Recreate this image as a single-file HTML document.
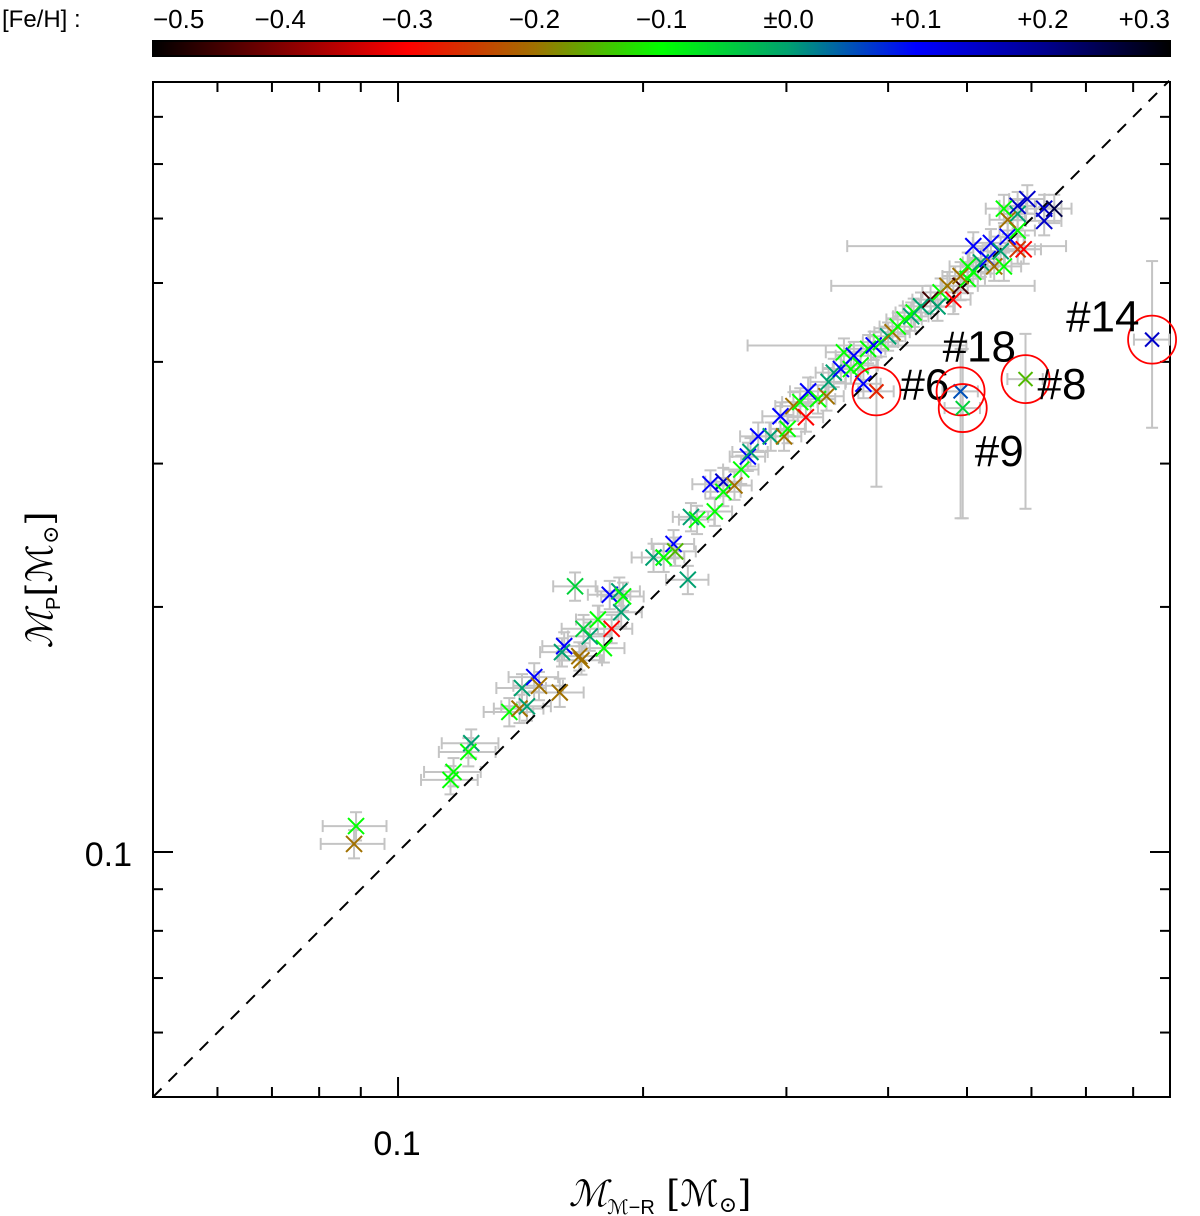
<!DOCTYPE html>
<html><head><meta charset="utf-8"><style>
html,body{margin:0;padding:0;background:#fff;}
svg{display:block;font-family:"Liberation Sans","DejaVu Sans",sans-serif;}
.nar{font-family:"Liberation Sans Narrow","Liberation Sans",sans-serif;}
</style></head><body>
<svg id="chart" width="1200" height="1216" viewBox="0 0 1200 1216" xmlns="http://www.w3.org/2000/svg">
<defs>
<linearGradient id="cbar" x1="0" x2="1" y1="0" y2="0">
<stop offset="0" stop-color="#000"/>
<stop offset="0.125" stop-color="#800000"/>
<stop offset="0.25" stop-color="#ff0000"/>
<stop offset="0.375" stop-color="#a07000"/>
<stop offset="0.5" stop-color="#00ff00"/>
<stop offset="0.625" stop-color="#00a070"/>
<stop offset="0.75" stop-color="#0000ff"/>
<stop offset="0.875" stop-color="#000090"/>
<stop offset="1" stop-color="#000"/>
</linearGradient>
</defs>
<text class="nar" x="2" y="27" font-size="24" fill="#000">[Fe/H] :</text>
<rect x="153" y="41" width="1017" height="15" fill="url(#cbar)" stroke="#000" stroke-width="2"/>
<g id="cbticks" class="nar"></g>
<rect x="153" y="82" width="1017" height="1015" fill="none" stroke="#000" stroke-width="2"/>
<g id="axes"></g>
<g id="errs"></g>
<line id="oneone" stroke="#000" stroke-width="2" stroke-dasharray="12,10"/>
<g id="marks"></g>
<g id="outl" class="nar"></g>
<text class="nar" x="397" y="1155" font-size="34" text-anchor="middle" fill="#000">0.1</text>
<text class="nar" x="132" y="866" font-size="34" text-anchor="end" fill="#000">0.1</text>
<text x="660" y="1206" font-size="36" text-anchor="middle" fill="#000" font-family="'DejaVu Serif',serif"><tspan font-style="italic">ℳ</tspan><tspan font-size="20" dy="8" font-family="'Liberation Sans',sans-serif">ℳ−R</tspan><tspan dy="-8"> [ℳ</tspan><tspan font-size="22" dy="6">⊙</tspan><tspan dy="-6">]</tspan></text>
<text transform="translate(52,580) rotate(-90)" font-size="36" text-anchor="middle" fill="#000" font-family="'DejaVu Serif',serif"><tspan font-style="italic">ℳ</tspan><tspan font-size="20" dy="8" font-family="'Liberation Sans',sans-serif">P</tspan><tspan dy="-8">[ℳ</tspan><tspan font-size="22" dy="6">⊙</tspan><tspan dy="-6">]</tspan></text>
</svg>
<script>
const cbLabels=["−0.5","−0.4","−0.3","−0.2","−0.1","±0.0","+0.1","+0.2","+0.3"];
const xMass=[0.0888,0.0883,0.117,0.116,0.123,0.122,0.137,0.141,0.144,0.142,0.147,0.149,0.158,0.160,0.159,0.167,0.168,0.179,0.183,0.172,0.169,0.176,0.188,0.165,0.182,0.187,0.189,0.227,0.206,0.212,0.218,0.219,0.229,0.233,0.245,0.242,0.251,0.251,0.259,0.264,0.269,0.271,0.277,0.287,0.295,0.298,0.301,0.306,0.312,0.319,0.317,0.328,0.336,0.338,0.343,0.350,0.353,0.360,0.363,0.370,0.378,0.384,0.392,0.400,0.405,0.411,0.419,0.427,0.430,0.439,0.451,0.460,0.464,0.473,0.481,0.491,0.501,0.491,0.509,0.501,0.520,0.530,0.540,0.555,0.535,0.509,0.550,0.577,0.587,0.561,0.577,0.577,0.561,0.593,0.577,0.622,0.640,0.622,0.555,0.373];
const yMass=[0.1076,0.1023,0.1254,0.1226,0.136,0.1327,0.1486,0.150,0.151,0.159,0.164,0.160,0.157,0.179,0.176,0.174,0.172,0.178,0.188,0.184,0.188,0.193,0.197,0.212,0.207,0.209,0.206,0.216,0.230,0.230,0.239,0.234,0.258,0.256,0.262,0.283,0.285,0.277,0.282,0.295,0.306,0.310,0.324,0.324,0.343,0.324,0.331,0.353,0.357,0.368,0.342,0.360,0.363,0.378,0.388,0.392,0.411,0.392,0.407,0.396,0.415,0.419,0.423,0.430,0.435,0.442,0.451,0.455,0.460,0.468,0.477,0.468,0.487,0.496,0.477,0.496,0.506,0.510,0.516,0.524,0.530,0.535,0.524,0.524,0.560,0.555,0.547,0.550,0.550,0.570,0.580,0.608,0.598,0.634,0.622,0.617,0.617,0.596,0.617,0.376];
const feh=[-0.1,-0.2,-0.1,-0.1,0.0,-0.1,-0.1,-0.2,0.0,0.0,0.1,-0.2,-0.2,0.1,0.0,-0.2,-0.2,-0.1,-0.3,0.0,-0.05,-0.1,0.0,-0.05,0.1,0.0,-0.1,0.0,0.0,-0.1,0.1,-0.15,0.0,-0.1,-0.1,0.1,0.15,-0.1,-0.2,-0.1,0.1,0.0,0.1,0.0,0.1,-0.2,-0.1,-0.2,-0.1,0.1,-0.3,-0.1,-0.2,0.0,0.0,0.1,-0.1,-0.1,0.1,-0.1,-0.1,0.1,-0.1,0.0,-0.2,-0.1,-0.1,0.0,-0.1,0.0,-0.45,0.0,-0.1,-0.2,-0.3,-0.45,-0.1,-0.2,-0.1,-0.1,0.0,0.1,-0.2,-0.1,0.1,0.1,0.0,-0.25,-0.3,0.1,-0.1,0.0,-0.2,0.15,0.15,0.15,0.25,0.15,-0.1,0.1];
const xErrRel=[0.09,0.09,0.08,0.08,0.08,0.08,0.07,0.07,0.07,0.07,0.07,0.07,0.07,0.06,0.06,0.06,0.06,0.06,0.06,0.06,0.06,0.06,0.06,0.06,0.06,0.06,0.06,0.06,0.06,0.06,0.06,0.06,0.05,0.05,0.05,0.05,0.05,0.05,0.05,0.05,0.05,0.05,0.05,0.05,0.05,0.05,0.05,0.05,0.05,0.05,0.05,0.05,0.05,0.05,0.05,0.05,0.05,0.05,0.05,0.05,0.05,0.30,0.05,0.05,0.05,0.05,0.05,0.05,0.05,0.05,0.05,0.05,0.05,0.28,0.05,0.05,0.05,0.05,0.05,0.05,0.05,0.05,0.05,0.05,0.05,0.30,0.05,0.05,0.05,0.05,0.05,0.05,0.05,0.05,0.05,0.05,0.05,0.05,0.05,0.05];
const outX=[0.387,0.491,0.494,0.590,0.844];
const outY=[0.368,0.368,0.351,0.381,0.426];
const outFeh=[-0.27,0.05,-0.05,-0.15,0.15];
const outYLo=[0.281,0.257,0.257,0.264,0.332];
const outYHi=[0.405,0.415,0.415,0.433,0.532];
const outLabels=["#6","#18","#9","#8","#14"];
const xTickVals=[0.06,0.07,0.08,0.09,0.1,0.2,0.3,0.4,0.5,0.6,0.7,0.8];

const NS="http://www.w3.org/2000/svg";
const X0=153,X1=1170,Y0=1097,Y1=82,DEC=814,VMIN=0.05;
const sx=v=>X0+Math.log10(v/VMIN)*DEC;
const sy=v=>Y0-Math.log10(v/VMIN)*DEC;
function mk(tag,attrs,parent){const e=document.createElementNS(NS,tag);for(const k in attrs)e.setAttribute(k,attrs[k]);parent.appendChild(e);return e;}
const cstops=[[-0.5,[0,0,0]],[-0.4,[128,0,0]],[-0.3,[255,0,0]],[-0.2,[160,112,0]],[-0.1,[0,255,0]],[0.0,[0,160,112]],[0.1,[0,0,255]],[0.2,[0,0,144]],[0.3,[0,0,0]]];
function col(f){f=Math.max(-0.5,Math.min(0.3,f));for(let i=0;i<cstops.length-1;i++){const a=cstops[i],b=cstops[i+1];if(f<=b[0]){const t=(f-a[0])/(b[0]-a[0]);const c=a[1].map((v,j)=>Math.round(v+(b[1][j]-v)*t));return `rgb(${c[0]},${c[1]},${c[2]})`;}}return "#000";}

const cb=document.getElementById('cbticks');
cbLabels.forEach((s,i)=>{const x=X0+i*(X1-X0)/(cbLabels.length-1);
 const t=mk('text',{x:x,y:28,'font-size':26,fill:'#000','text-anchor':i==0?'start':(i==cbLabels.length-1?'end':'middle')},cb);
 
 
 t.textContent=s;});

const ax=document.getElementById('axes');
xTickVals.forEach(v=>{const L=(v===0.1)?20:10;const px=sx(v),py=sy(v);
 [[px,Y0,px,Y0-L],[px,Y1,px,Y1+L],[X0,py,X0+L,py],[X1,py,X1-L,py]].forEach(c=>{
  const l=mk('line',{x1:c[0],y1:c[1],x2:c[2],y2:c[3],stroke:'#000','stroke-width':2},ax);
  
  });});

const ol=document.getElementById('oneone');
ol.setAttribute('x1',sx(VMIN));ol.setAttribute('y1',sy(VMIN));
ol.setAttribute('x2',sx(0.886));ol.setAttribute('y2',sy(0.886));

const eg=document.getElementById('errs'),mg=document.getElementById('marks'),og=document.getElementById('outl');
const gray='#c4c4c4';
function hbar(x1,x2,y){mk('line',{x1:x1,y1:y,x2:x2,y2:y,stroke:gray,'stroke-width':2},eg);mk('line',{x1:x1,y1:y-6,x2:x1,y2:y+6,stroke:gray,'stroke-width':2},eg);mk('line',{x1:x2,y1:y-6,x2:x2,y2:y+6,stroke:gray,'stroke-width':2},eg);}
function vbar(x,y1,y2){mk('line',{x1:x,y1:y1,x2:x,y2:y2,stroke:gray,'stroke-width':2},eg);mk('line',{x1:x-6,y1:y1,x2:x+6,y2:y1,stroke:gray,'stroke-width':2},eg);mk('line',{x1:x-6,y1:y2,x2:x+6,y2:y2,stroke:gray,'stroke-width':2},eg);}
function cross(x,y,s,c,parent,name){const g=mk('g',{stroke:c,'stroke-width':2},parent);
 
 
 mk('line',{x1:x-s,y1:y-s,x2:x+s,y2:y+s},g);mk('line',{x1:x-s,y1:y+s,x2:x+s,y2:y-s},g);}

xMass.forEach((v,i)=>{const x=sx(v),y=sy(yMass[i]);const e=xErrRel[i];
 hbar(sx(v*(1-e)),sx(v*(1+e)),y);
 const ye=yMass[i]*0.04;vbar(x,sy(yMass[i]+ye),sy(yMass[i]-ye));});
xMass.forEach((v,i)=>{cross(sx(v),sy(yMass[i]),8,col(feh[i]),mg,'data-point');});

outX.forEach((v,i)=>{const x=sx(v),y=sy(outY[i]);
 hbar(sx(v*0.95),sx(v*1.05),y);vbar(x,sy(outYHi[i]),sy(outYLo[i]));});
const lblOff=[[24,8,'start'],[-18,-30,'start'],[12,58,'start'],[12,20,'start'],[-86,-8,'start']];
outX.forEach((v,i)=>{const x=sx(v),y=sy(outY[i]);
 cross(x,y,7,col(outFeh[i]),og,'outlier-point');
 const c=mk('circle',{cx:x,cy:y,r:24,fill:'none',stroke:'#f00','stroke-width':1.8},og);
 
 
 const t=mk('text',{x:x+lblOff[i][0],y:y+lblOff[i][1],'font-size':44,fill:'#000','text-anchor':lblOff[i][2]},og);
 
 
 t.textContent=outLabels[i];});
</script>
</body></html>
